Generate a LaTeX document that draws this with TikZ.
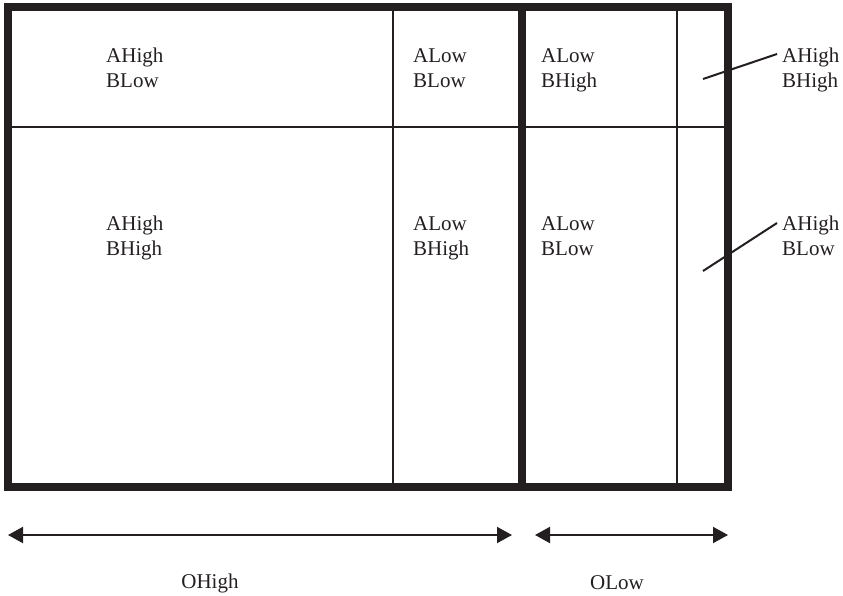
\documentclass[tikz,border=0pt]{standalone}
\usepackage{fontspec}
\setmainfont{Liberation Serif}
\usetikzlibrary{arrows.meta}
\definecolor{ink}{HTML}{231F20}
\newcommand{\twolines}[2]{\begin{tabular}[t]{@{}l@{}}#1\\#2\end{tabular}}
\tikzset{
  thickline/.style={draw=ink,line width=8pt},
  thinline/.style={draw=ink,line width=2pt},
  lab/.style={anchor=base west,inner sep=0pt,text=ink,font=\fontsize{21}{25}\selectfont},
  leader/.style={draw=ink,line width=2pt},
  dimarrow/.style={draw=ink,line width=2pt,{Triangle[length=15pt,width=16pt]}-{Triangle[length=15pt,width=16pt]}},
  biglab/.style={anchor=center,inner sep=0pt,text=ink,font=\fontsize{21}{25}\selectfont}
}
\begin{document}
\begin{tikzpicture}[x=1pt,y=-1pt]
\useasboundingbox (0,0) rectangle (843,595);
% grid lines
\draw[thinline] (8,127) -- (728,127);
\draw[thinline] (393,7) -- (393,487);
\draw[thinline] (677,7) -- (677,487);
\draw[thickline] (522,7) -- (522,487);
\draw[thickline] (8,7) rectangle (728,487);
% labels
\node[lab] (t1) at (106,62) {\twolines{AHigh}{BLow}};
\node[lab] (t2) at (413,62) {\twolines{ALow}{BLow}};
\node[lab] (t3) at (541,62) {\twolines{ALow}{BHigh}};
\node[lab] (t4) at (782,62) {\twolines{AHigh}{BHigh}};
\node[lab] (b1) at (106,230) {\twolines{AHigh}{BHigh}};
\node[lab] (b2) at (413,230) {\twolines{ALow}{BHigh}};
\node[lab] (b3) at (541,230) {\twolines{ALow}{BLow}};
\node[lab] (b4) at (782,230) {\twolines{AHigh}{BLow}};
% leaders
\coordinate (p1) at (703,79);
\coordinate (q1) at (777,54);
\coordinate (p2) at (703,271);
\coordinate (q2) at (777,223);
\draw[leader] (p1) -- (q1);
\draw[leader] (p2) -- (q2);
% dimension arrows
\coordinate (a1) at (8,535);
\coordinate (a2) at (512,535);
\coordinate (a3) at (535,535);
\coordinate (a4) at (728,535);
\draw[dimarrow] (a1) -- (a2);
\draw[dimarrow] (a3) -- (a4);
\node[biglab] (oh) at (210,583) {OHigh};
\node[biglab] (ol) at (617,583) {OLow};
\end{tikzpicture}
\end{document}
